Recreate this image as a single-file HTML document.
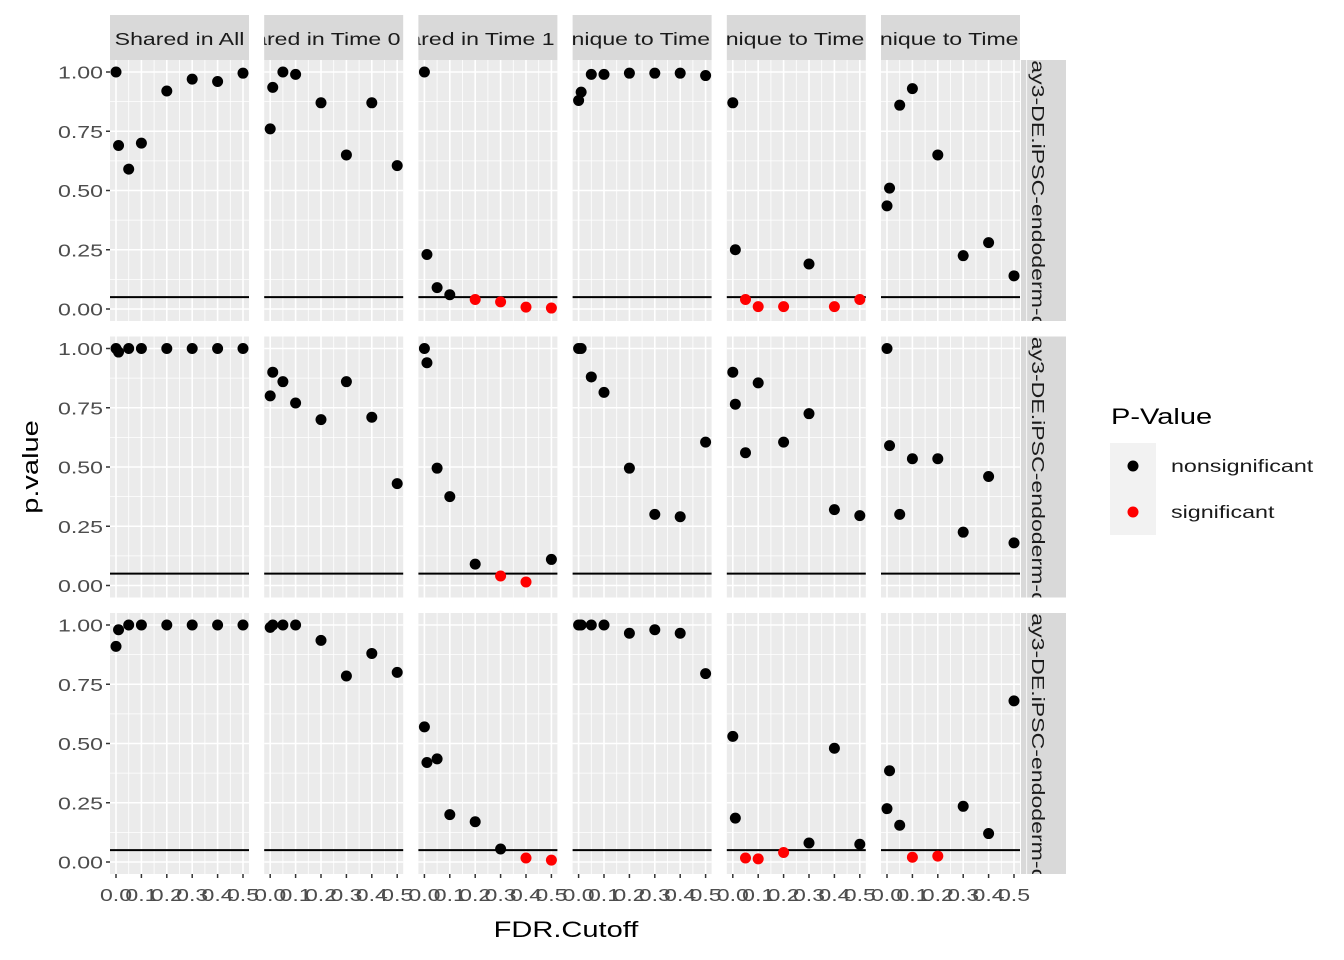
<!DOCTYPE html>
<html><head><meta charset="utf-8"><style>
html,body{margin:0;padding:0;background:#fff;}
svg{display:block;font-family:"Liberation Sans",Arial,sans-serif;}
</style></head><body>
<svg id="chart" width="1344" height="960" viewBox="0 0 1344 960">
<defs id="defs"></defs>
<g id="panels"></g>
<text transform="translate(566,937) scale(1.32,1)" font-size="22" text-anchor="middle" fill="#000">FDR.Cutoff</text>
<text transform="translate(38,467) rotate(-90) scale(1.32,1)" font-size="22" text-anchor="middle" fill="#000">p.value</text>
<g>
<text transform="translate(1111,424) scale(1.32,1)" font-size="22" fill="#000">P-Value</text>
<rect x="1110" y="443" width="46" height="92" fill="#f2f2f2"/>
<circle cx="1133" cy="466" r="5.5" fill="#000"/>
<circle cx="1133" cy="512" r="5.5" fill="#ff0000"/>
<text transform="translate(1171,472) scale(1.33,1)" font-size="17.5" fill="#1a1a1a">nonsignificant</text>
<text transform="translate(1171,518) scale(1.33,1)" font-size="17.5" fill="#1a1a1a">significant</text>
</g>
</svg>
<script>
const colLabels = ["Shared in All","Shared in Time 0 & 1","Shared in Time 1 & 2","Unique to Time 0","Unique to Time 1","Unique to Time 2"];
const rowLabels = ["Day0-vs-Day3-DE.iPSC-endoderm-day3-vs-d0","Day1-vs-Day3-DE.iPSC-endoderm-day3-vs-d1","Day2-vs-Day3-DE.iPSC-endoderm-day3-vs-d2"];
const fdrCutoffs = [0, 0.01, 0.05, 0.1, 0.2, 0.3, 0.4, 0.5];
const xTicks = [0, 0.1, 0.2, 0.3, 0.4, 0.5];
const xTickLabels = ["0.0","0.1","0.2","0.3","0.4","0.5"];
const yTicks = [0, 0.25, 0.5, 0.75, 1];
const yTickLabels = ["0.00","0.25","0.50","0.75","1.00"];
const threshold = 0.05;
const pRow1 = [
 [1.0,0.69,0.59,0.70,0.92,0.97,0.96,0.995],
 [0.76,0.935,1.0,0.99,0.87,0.65,0.87,0.605],
 [1.0,0.23,0.09,0.06,0.04,0.03,0.008,0.004],
 [0.88,0.915,0.99,0.99,0.995,0.995,0.995,0.985],
 [0.87,0.25,0.04,0.01,0.01,0.19,0.01,0.04],
 [0.435,0.51,0.86,0.93,0.65,0.225,0.28,0.14]
];
const pRow2 = [
 [1.0,0.985,1.0,1.0,1.0,1.0,1.0,1.0],
 [0.80,0.90,0.86,0.77,0.70,0.86,0.71,0.43],
 [1.0,0.94,0.495,0.375,0.09,0.04,0.015,0.11],
 [1.0,1.0,0.88,0.815,0.495,0.30,0.29,0.605],
 [0.90,0.765,0.56,0.855,0.605,0.725,0.32,0.295],
 [1.0,0.59,0.30,0.535,0.535,0.225,0.46,0.18]
];
const pRow3 = [
 [0.91,0.98,1.0,1.0,1.0,1.0,1.0,1.0],
 [0.99,1.0,1.0,1.0,0.935,0.785,0.88,0.80],
 [0.57,0.42,0.435,0.20,0.17,0.055,0.017,0.008],
 [1.0,1.0,1.0,1.0,0.965,0.98,0.965,0.795],
 [0.53,0.185,0.017,0.013,0.04,0.08,0.48,0.075],
 [0.225,0.385,0.155,0.02,0.025,0.235,0.12,0.68]
];
const pValues = [pRow1, pRow2, pRow3];

const NS="http://www.w3.org/2000/svg";
const g=document.getElementById('panels');
const defs=document.getElementById('defs');
const SX=1.32;
const PW=139, PH=261, colX0=110, colStep=154.2, rowY0=60, rowStep=276.5;
function mk(t,a,p){const e=document.createElementNS(NS,t);for(const k in a)e.setAttribute(k,a[k]);(p||g).appendChild(e);return e;}
function xs(c,v){return colX0+c*colStep+6+v*(PW-12)/0.5;}
function ys(r,v){return rowY0+r*rowStep+PH-12-v*(PH-24);}

colLabels.forEach((lab,c)=>{
  const x=colX0+c*colStep;
  const cp=mk('clipPath',{id:'cs'+c},defs); mk('rect',{x:x,y:15,width:PW,height:45},cp);
  const r=mk('rect',{x:x,y:15,width:PW,height:45,fill:'#d9d9d9'});
  
  
  const cg=mk('g',{'clip-path':'url(#cs'+c+')'});
  const t=mk('text',{transform:'translate('+(x+PW/2)+',45) scale('+SX+',1)','font-size':'17.5','text-anchor':'middle',fill:'#1a1a1a'},cg);
  t.textContent=lab;
  
  
});
rowLabels.forEach((lab,r)=>{
  const y=rowY0+r*rowStep;
  const cp=mk('clipPath',{id:'rs'+r},defs); mk('rect',{x:1021,y:y,width:45,height:PH},cp);
  const rc=mk('rect',{x:1021,y:y,width:45,height:PH,fill:'#d9d9d9'});
  
  
  const cg=mk('g',{'clip-path':'url(#rs'+r+')'});
  const t=mk('text',{transform:'translate(1032,'+(y+PH/2)+') rotate(90) scale('+SX+',1)','font-size':'17.5','text-anchor':'middle',fill:'#1a1a1a'},cg);
  t.textContent=lab;
  
  
});
for(let r=0;r<3;r++){
  for(let c=0;c<6;c++){
    const x=colX0+c*colStep, y=rowY0+r*rowStep;
    const bg=mk('rect',{x:x,y:y,width:PW,height:PH,fill:'#ebebeb'});
    
    
    for(let v=0.05;v<0.55;v+=0.1) mk('line',{x1:xs(c,v),x2:xs(c,v),y1:y,y2:y+PH,stroke:'#fff','stroke-width':0.8});
    for(let v=0.125;v<1;v+=0.25) mk('line',{x1:x,x2:x+PW,y1:ys(r,v),y2:ys(r,v),stroke:'#fff','stroke-width':0.8});
    xTicks.forEach(v=>mk('line',{x1:xs(c,v),x2:xs(c,v),y1:y,y2:y+PH,stroke:'#fff','stroke-width':1.6}));
    yTicks.forEach(v=>mk('line',{x1:x,x2:x+PW,y1:ys(r,v),y2:ys(r,v),stroke:'#fff','stroke-width':1.6}));
    const hl=mk('line',{x1:x,x2:x+PW,y1:ys(r,threshold),y2:ys(r,threshold),stroke:'#000','stroke-width':2});
    
    
    pValues[r][c].forEach((p,i)=>{
      const pt=mk('circle',{cx:xs(c,fdrCutoffs[i]),cy:ys(r,p),r:5.5,fill:p<threshold?'#ff0000':'#000'});
      
      
    });
    if(c===0){
      yTicks.forEach((v,i)=>{
        mk('line',{x1:x-4,x2:x,y1:ys(r,v),y2:ys(r,v),stroke:'#333','stroke-width':1.5});
        const t=mk('text',{transform:'translate('+(x-7)+','+(ys(r,v)+6.5)+') scale('+SX+',1)','font-size':'17.5','text-anchor':'end',fill:'#4d4d4d'});
        t.textContent=yTickLabels[i];
        
        
      });
    }
    if(r===2){
      xTicks.forEach((v,i)=>{
        mk('line',{x1:xs(c,v),x2:xs(c,v),y1:y+PH,y2:y+PH+4,stroke:'#333','stroke-width':1.5});
        const t=mk('text',{transform:'translate('+xs(c,v)+','+(y+PH+27)+') scale('+SX+',1)','font-size':'17.5','text-anchor':'middle',fill:'#4d4d4d'});
        t.textContent=xTickLabels[i];
        
        
      });
    }
  }
}
</script>
</body></html>
